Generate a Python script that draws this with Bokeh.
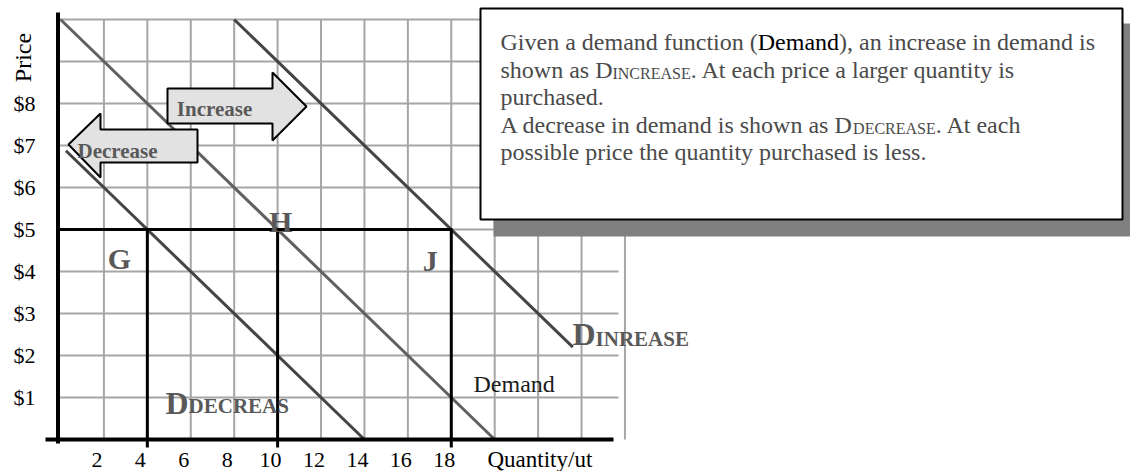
import math
from bokeh.plotting import figure
from bokeh.models import Range1d, ColumnDataSource
from bokeh.core.properties import value
from bokeh.embed import file_html
from bokeh.resources import INLINE

# ---------------- data ----------------
price_ticks = [1, 2, 3, 4, 5, 6, 7, 8]
price_labels = ["$1", "$2", "$3", "$4", "$5", "$6", "$7", "$8"]
qty_ticks = [2, 4, 6, 8, 10, 12, 14, 16, 18]
qty_labels = ["2", "4", "6", "8", "10", "12", "14", "16", "18"]
grid_qty = [2, 4, 6, 8, 10, 12, 14, 16, 18, 20, 22, 24, 26]
grid_price = [1, 2, 3, 4, 5, 6, 7, 8, 9, 10]

demand_qty = [0, 20]
demand_price = [10, 0]
increase_qty = [8, 23.6]
increase_price = [10, 2.2]
decrease_qty = [0.25, 14]
decrease_price = [6.875, 0]

eq_price = 5
eq_qty = [4, 10, 18]
eq_names = ["G", "H", "J"]

# ---------------- layout helpers (pixels -> data) ----------------
W, H = 1130, 471
QX0, QU = 60.0, 21.71     # x pixel of q=0, px per unit of quantity
PY0, PU = 439.0, 42.0     # y pixel of p=0, px per $1


def qx(px):
    return (px - QX0) / QU


def py(px):
    return (PY0 - px) / PU


FONT = value("Liberation Serif")
GRAY_TXT = "#595959"
BOX_TXT = "#4a4a4a"

p = figure(width=W, height=H,
           x_range=Range1d(qx(0), qx(W)),
           y_range=Range1d(py(H), py(0)),
           output_backend="svg", toolbar_location=None,
           x_axis_location=None, y_axis_location=None,
           min_border=0, outline_line_color=None, title=None)
for g in p.grid:
    g.visible = False

AX_Q = qx(57.5)
GRID_END = qx(618)

# grid
p.multi_line([[q, q] for q in grid_qty], [[0, 10] for _ in grid_qty],
             line_color="#a6a6a6", line_width=2)
p.multi_line([[AX_Q, GRID_END] for _ in grid_price], [[v, v] for v in grid_price],
             line_color="#a6a6a6", line_width=2)

# demand curves
p.line(demand_qty, demand_price, line_color="#606060", line_width=3)
p.line(increase_qty, increase_price, line_color="#454545", line_width=3)
p.line(decrease_qty, decrease_price, line_color="#454545", line_width=3)

# equilibrium guide lines
p.line([AX_Q, max(eq_qty) + 0.05], [eq_price, eq_price], line_color="black", line_width=3)
p.multi_line([[q, q] for q in eq_qty], [[eq_price, py(447)] for _ in eq_qty],
             line_color="black", line_width=3)

# axis lines
p.line([AX_Q, AX_Q], [py(443), py(12)], line_color="black", line_width=4)
p.line([qx(45), qx(613)], [0, 0], line_color="black", line_width=4)

# y tick labels
p.text(x=[qx(35)] * len(price_ticks), y=price_ticks, text=price_labels,
       text_font=FONT, text_font_size="22px", text_color="black",
       text_align="right", text_baseline="middle")
p.text(x=[qx(22)], y=[py(57)], text=["Price"], angle=math.pi / 2,
       text_font=FONT, text_font_size="24px", text_color="black",
       text_align="center", text_baseline="middle")

# x tick labels
p.text(x=[q - 7 / QU for q in qty_ticks], y=[py(459)] * len(qty_ticks), text=qty_labels,
       text_font=FONT, text_font_size="22px", text_color="black",
       text_align="center", text_baseline="alphabetic")
p.text(x=[qx(487)], y=[py(459)], text=["Quantity/ut"],
       text_font=FONT, text_font_size="23px", text_color="black",
       text_align="left", text_baseline="alphabetic")

# arrows
inc_arrow = [(167, 88), (272, 88), (272, 72), (306, 106), (272, 140), (272, 123), (167, 123)]
dec_arrow = [(68, 144), (100, 113), (100, 129), (197, 129), (197, 162), (100, 162), (100, 177)]
for arr in (inc_arrow, dec_arrow):
    p.patch([qx(a) for a, b in arr], [py(b) for a, b in arr],
            fill_color="#e2e2e2", line_color="black", line_width=2)
p.text(x=[qx(214), qx(117)], y=[py(108), py(150)], text=["Increase", "Decrease"],
       text_font=FONT, text_font_size="21px", text_font_style="bold",
       text_color=GRAY_TXT, text_align="center", text_baseline="alphabetic")

# point labels G, H, J
lab_dx = [-28, 3, -21]
lab_dy = [29, -8, 31]
p.text(x=[q + dx / QU for q, dx in zip(eq_qty, lab_dx)],
       y=[eq_price - dy / PU for dy in lab_dy], text=eq_names,
       text_font=FONT, text_font_size="30px", text_font_style="bold",
       text_color=GRAY_TXT, text_align="center", text_baseline="alphabetic")

# curve labels
BIG_D = 32
p.text(x=[qx(165), qx(572)], y=[py(402), py(333)], text=["D", "D"],
       text_font=FONT, text_font_size=f"{BIG_D}px", text_font_style="bold",
       text_color=GRAY_TXT, text_align="left", text_baseline="alphabetic")
p.text(x=[qx(165 + 0.722 * BIG_D), qx(572 + 0.722 * BIG_D)], y=[py(405), py(338)],
       text=["DECREAS", "INREASE"],
       text_font=FONT, text_font_size="21px", text_font_style="bold",
       text_color=GRAY_TXT, text_align="left", text_baseline="alphabetic")
p.text(x=[qx(473)], y=[py(383)], text=["Demand"],
       text_font=FONT, text_font_size="24px", text_color="#1a1a1a",
       text_align="left", text_baseline="alphabetic")

# text box with shadow
p.quad(left=[qx(493)], right=[qx(1136)], top=[py(23)], bottom=[py(236)],
       fill_color="#808080", line_color=None)
p.quad(left=[qx(480)], right=[qx(1122)], top=[py(8)], bottom=[py(219)],
       fill_color="white", line_color="black", line_width=2)

TW = {' ': 250, '(': 333, ')': 333, ',': 250, '.': 250,
      'A': 722, 'C': 667, 'D': 722, 'E': 611, 'G': 722, 'I': 333, 'N': 722, 'R': 667, 'S': 556,
      'a': 444, 'b': 500, 'c': 444, 'd': 500, 'e': 444, 'f': 333, 'g': 500, 'h': 500, 'i': 278,
      'j': 278, 'k': 500, 'l': 278, 'm': 778, 'n': 500, 'o': 500, 'p': 500, 'q': 500, 'r': 333,
      's': 389, 't': 278, 'u': 500, 'v': 500, 'w': 722, 'x': 500, 'y': 500, 'z': 444}


def tw(s, size):
    return sum(TW.get(c, 500) for c in s) * size / 1000.0


box_lines = [
    [("Given a demand function (", 24, 0, BOX_TXT), ("Demand", 24, 0, "black"),
     ("), an increase in demand is", 24, 0, BOX_TXT)],
    [("shown as D", 24, 0, BOX_TXT), ("INCREASE", 16, 4, BOX_TXT),
     (". At each price a larger quantity is", 24, 0, BOX_TXT)],
    [("purchased.", 24, 0, BOX_TXT)],
    [("A decrease in demand is shown as D", 24, 0, BOX_TXT), ("DECREASE", 16, 4, BOX_TXT),
     (". At each", 24, 0, BOX_TXT)],
    [("possible price the quantity purchased is less.", 24, 0, BOX_TXT)],
]
seg = dict(x=[], y=[], text=[], size=[], color=[])
for i, line in enumerate(box_lines):
    base = 41.5 + i * 27.6
    xpx = 500.0
    for txt, size, drop, col in line:
        seg["x"].append(qx(xpx))
        seg["y"].append(py(base + drop))
        seg["text"].append(txt)
        seg["size"].append(f"{size}px")
        seg["color"].append(col)
        xpx += tw(txt, size)
p.text(x="x", y="y", text="text", source=ColumnDataSource(seg),
       text_font=FONT, text_font_size="size", text_color="color",
       text_align="left", text_baseline="alphabetic")

open("out.html", "w").write(file_html(p, INLINE))
